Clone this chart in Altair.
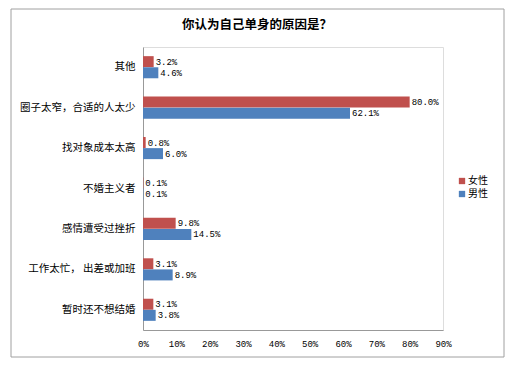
import altair as alt
import pandas as pd

categories = ["其他", "圈子太窄，合适的人太少", "找对象成本太高", "不婚主义者",
              "感情遭受过挫折", "工作太忙， 出差或加班", "暂时还不想结婚"]
female = [3.2, 80.0, 0.8, 0.1, 9.8, 3.1, 3.1]
male = [4.6, 62.1, 6.0, 0.1, 14.5, 8.9, 3.8]
series = ["女性", "男性"]
colors = ["#C0504D", "#4F81BD"]
x_ticks = [0, 10, 20, 30, 40, 50, 60, 70, 80, 90]

rows = []
for c, f, m in zip(categories, female, male):
    rows.append({"cat": c, "sex": series[0], "v": f})
    rows.append({"cat": c, "sex": series[1], "v": m})
df = pd.DataFrame(rows)

cjk = "Noto Sans CJK SC"
mono = "Liberation Mono"

y_enc = alt.Y("cat:N", sort=categories,
              scale=alt.Scale(paddingInner=0.45, paddingOuter=0.225),
              axis=alt.Axis(title=None, ticks=False, labelFont=cjk, labelFontSize=10.5,
                            labelColor="#000", labelPadding=8, domainColor="#999"))
x_enc = alt.X("v:Q", scale=alt.Scale(domain=[0, 90], nice=False),
              axis=alt.Axis(title=None, values=x_ticks, grid=False, ticks=False,
                            labelExpr="datum.value + '%'", labelFont=mono, labelFontSize=9,
                            labelColor="#000", labelPadding=9, domainColor="#999",
                            labelFlush=False, labelOverlap=False))

base = alt.Chart(df).encode(
    x=x_enc,
    y=y_enc,
    yOffset=alt.YOffset("sex:N", sort=series),
)

bars = base.mark_bar(size=11).encode(
    color=alt.Color("sex:N", sort=series,
                    scale=alt.Scale(domain=series, range=colors),
                    legend=alt.Legend(title=None, orient="none", legendX=314, legendY=129,
                                      symbolType="square", symbolSize=40, symbolStrokeWidth=0,
                                      labelFont=cjk, labelFontSize=10, labelColor="#000",
                                      rowPadding=3, labelOffset=1)),
)

labels = base.mark_text(align="left", baseline="middle", dx=2, font=mono,
                        fontSize=9, color="#000").encode(
    text="lbl:N",
).transform_calculate(lbl="format(datum.v, '.1f') + '%'")

frame = alt.Chart(pd.DataFrame({"a": [0]})).mark_rect(
    fill=None, stroke="#a0a0a0", strokeWidth=1).encode(
    x=alt.value(-132), x2=alt.value(361), y=alt.value(-38), y2=alt.value(310))

chart = alt.layer(frame, bars, labels).properties(
    width=300, height=283,
    padding={"left": 135, "top": 39, "right": 63, "bottom": 30},
    autosize=alt.AutoSizeParams(type="none"),
    title=alt.TitleParams("你认为自己单身的原因是？", anchor="middle", dx=-36, offset=-23,
                          frame="group", font=cjk, fontSize=12.5, fontWeight="bold",
                          color="#000"),
).configure_view(stroke=None).configure(background="white")

chart.save("out.html", embed_options={"renderer": "svg", "actions": False})
